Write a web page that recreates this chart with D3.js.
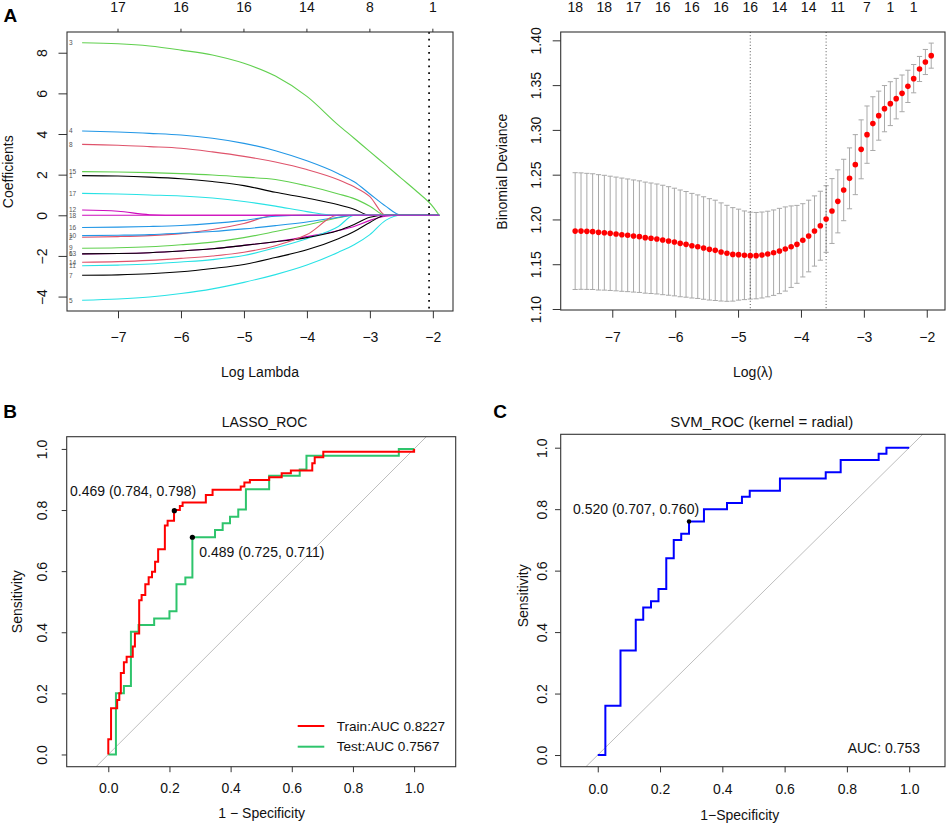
<!DOCTYPE html>
<html>
<head>
<meta charset="utf-8">
<script src="https://cdnjs.cloudflare.com/ajax/libs/d3/7.8.5/d3.min.js"></script>
<style>
  body { margin: 0; background: #fff; }
</style>
</head>
<body>
<svg id="chart" width="948" height="824"></svg>
<script>
const FONT = '"Liberation Sans", Arial, Helvetica, sans-serif';

// ---- panel A (left): lasso coefficient paths ----
const coefLogLambda = [-7.57, -7, -6.5, -6, -5.5, -5, -4.5, -4, -3.5, -3.25, -3, -2.75, -2.5, -2.25, -2, -1.9];
const coefPaths = [
  [1.95, 1.93, 1.88, 1.8, 1.66, 1.46, 1.13, 0.85, 0.52, 0.3, 0, 0, 0, 0, 0, 0],
  [-1.08, -1.05, -1.0, -0.9, -0.7, -0.4, 0, 0, 0, 0, 0, 0, 0, 0, 0, 0],
  [8.49, 8.44, 8.33, 8.13, 7.89, 7.48, 6.85, 5.85, 4.44, 3.79, 3.13, 2.48, 1.82, 1.16, 0.43, 0],
  [4.15, 4.1, 4.03, 3.95, 3.79, 3.54, 3.18, 2.68, 2.05, 1.65, 1.05, 0.45, 0, 0, 0, 0],
  [-4.18, -4.12, -4.02, -3.85, -3.62, -3.3, -2.92, -2.45, -1.82, -1.45, -0.95, -0.25, 0, 0, 0, 0],
  [-1.9, -1.88, -1.84, -1.76, -1.65, -1.48, -1.3, -1.05, -0.75, -0.55, -0.25, -0.05, 0, 0, 0, 0],
  [-2.95, -2.93, -2.88, -2.78, -2.62, -2.42, -2.08, -1.7, -1.15, -0.8, -0.35, 0, 0, 0, 0, 0],
  [3.49, 3.45, 3.38, 3.3, 3.12, 2.9, 2.62, 2.25, 1.75, 1.4, 0.92, 0, 0, 0, 0, 0],
  [-1.62, -1.6, -1.55, -1.45, -1.32, -1.1, -0.8, -0.48, -0.12, 0, 0, 0, 0, 0, 0, 0],
  [-1.0, -0.98, -0.95, -0.88, -0.8, -0.67, -0.51, -0.33, -0.1, 0, 0, 0, 0, 0, 0, 0],
  [-2.48, -2.45, -2.4, -2.3, -2.18, -1.98, -1.6, -1.15, -0.55, 0, 0, 0, 0, 0, 0, 0],
  [0.26, 0.2, 0.03, 0, 0, 0, 0, 0, 0, 0, 0, 0, 0, 0, 0, 0],
  [-1.9, -1.88, -1.84, -1.76, -1.65, -1.48, -1.3, -1.1, -0.75, -0.45, -0.1, 0, 0, 0, 0, 0],
  [-2.31, -2.28, -2.22, -2.12, -2.0, -1.82, -1.5, -0.95, 0, 0, 0, 0, 0, 0, 0, 0],
  [2.15, 2.13, 2.1, 2.05, 1.98, 1.88, 1.76, 1.45, 1.05, 0.82, 0.45, 0, 0, 0, 0, 0],
  [-0.6, -0.58, -0.55, -0.5, -0.4, -0.25, -0.05, 0, 0, 0, 0, 0, 0, 0, 0, 0],
  [1.08, 1.05, 1.0, 0.95, 0.85, 0.68, 0.45, 0.18, 0, 0, 0, 0, 0, 0, 0, 0],
  [0, 0, 0, 0, 0, 0, 0, 0, 0, 0, 0, 0, 0, 0, 0, 0]
];
const coefColors = ["#000000", "#DF536B", "#61D04F", "#2297E6", "#28E2E5", "#CD0BBC"];
const coefDfAt = [-7, -6, -5, -4, -3, -2];
const coefDf = ["17", "16", "16", "14", "8", "1"];
const coefCut = -2.06;

// ---- panel A (right): cross-validated deviance ----
const devLogLambda = [-7.59, -7.497, -7.404, -7.312, -7.219, -7.126, -7.033, -6.94, -6.848, -6.755,
  -6.662, -6.569, -6.476, -6.384, -6.291, -6.198, -6.105, -6.012, -5.92, -5.827,
  -5.734, -5.641, -5.548, -5.456, -5.363, -5.27, -5.177, -5.084, -4.992, -4.899,
  -4.806, -4.713, -4.62, -4.528, -4.435, -4.342, -4.249, -4.156, -4.064, -3.971,
  -3.878, -3.785, -3.692, -3.6, -3.507, -3.414, -3.321, -3.228, -3.136, -3.043,
  -2.95, -2.857, -2.764, -2.672, -2.579, -2.486, -2.393, -2.3, -2.208, -2.115,
  -2.022, -1.929];
const devMean = [1.187, 1.187, 1.1867, 1.1864, 1.1856, 1.1852, 1.1845, 1.1838, 1.183, 1.1823,
  1.1815, 1.1808, 1.1797, 1.179, 1.1782, 1.1771, 1.176, 1.1748, 1.1733, 1.1722,
  1.1707, 1.1696, 1.1681, 1.1666, 1.1655, 1.1637, 1.1622, 1.161, 1.1607, 1.16,
  1.1596, 1.1596, 1.1603, 1.1614, 1.1629, 1.1648, 1.167, 1.1696, 1.1722, 1.1767,
  1.1815, 1.1871, 1.193, 1.2005, 1.2094, 1.2202, 1.2329, 1.2459, 1.2612, 1.2783,
  1.2947, 1.307, 1.3159, 1.3237, 1.3293, 1.3349, 1.3408, 1.3486, 1.3572, 1.368,
  1.3758, 1.3829];
const devSE = [0.0652, 0.065, 0.0648, 0.0646, 0.0644, 0.0641, 0.0638, 0.0635, 0.0632, 0.0629,
  0.0626, 0.0623, 0.062, 0.0617, 0.0614, 0.0611, 0.0606, 0.0601, 0.0596, 0.059,
  0.0584, 0.0578, 0.0572, 0.0566, 0.056, 0.0548, 0.0536, 0.0522, 0.0508, 0.0495,
  0.0485, 0.0482, 0.048, 0.0478, 0.0477, 0.0476, 0.047, 0.0455, 0.0435, 0.0409,
  0.04, 0.0392, 0.0385, 0.0372, 0.0362, 0.0352, 0.0343, 0.034, 0.0335, 0.0329,
  0.032, 0.03, 0.0274, 0.0258, 0.0245, 0.0226, 0.0205, 0.018, 0.0158, 0.014,
  0.014, 0.014];
const devDfIdx = [0, 5, 10, 15, 20, 25, 30, 35, 40, 45, 50, 54, 58];
const devDf = ["18", "18", "17", "16", "16", "16", "16", "14", "14", "11", "7", "1", "1"];
const devMinLambda = -4.806;
const dev1seLambda = -3.6;

// ---- panel B: LASSO ROC (train / test) ----
const trainFpr = [0, 0, 0.009, 0.029, 0.036, 0.041, 0.051, 0.06, 0.08, 0.087, 0.101, 0.109, 0.121, 0.132, 0.143, 0.153, 0.163, 0.185, 0.194, 0.215, 0.234, 0.243, 0.319, 0.341, 0.433, 0.445, 0.463, 0.526, 0.567, 0.597, 0.667, 0.675, 0.703, 1.0];
const trainTpr = [0, 0.05, 0.151, 0.178, 0.2, 0.267, 0.302, 0.32, 0.353, 0.396, 0.505, 0.522, 0.557, 0.58, 0.598, 0.631, 0.672, 0.749, 0.765, 0.8, 0.813, 0.825, 0.849, 0.866, 0.877, 0.89, 0.898, 0.907, 0.92, 0.929, 0.953, 0.973, 0.991, 1.0];
const testFpr = [0, 0.025, 0.051, 0.074, 0.099, 0.15, 0.2, 0.223, 0.252, 0.275, 0.349, 0.374, 0.398, 0.425, 0.45, 0.526, 0.626, 0.648, 0.95, 1.0];
const testTpr = [0, 0.2, 0.224, 0.402, 0.424, 0.445, 0.469, 0.557, 0.579, 0.711, 0.735, 0.757, 0.778, 0.802, 0.868, 0.912, 0.933, 0.978, 1.0, 1.0];
const lassoThr = [
  { fpr: 0.216, tpr: 0.798, label: "0.469 (0.784, 0.798)" },
  { fpr: 0.275, tpr: 0.711, label: "0.489 (0.725, 0.711)" }
];
const lassoLegend = ["Train:AUC 0.8227", "Test:AUC 0.7567"];

// ---- panel C: SVM ROC ----
const svmFpr = [0, 0.0244, 0.073, 0.122, 0.146, 0.171, 0.195, 0.22, 0.244, 0.268, 0.293, 0.341, 0.415, 0.463, 0.488, 0.585, 0.732, 0.78, 0.902, 0.927, 1.0];
const svmTpr = [0, 0.16, 0.34, 0.44, 0.48, 0.5, 0.54, 0.64, 0.7, 0.72, 0.76, 0.8, 0.82, 0.84, 0.86, 0.9, 0.92, 0.96, 0.98, 1.0, 1.0];
const svmThr = { fpr: 0.293, tpr: 0.76, label: "0.520 (0.707, 0.760)" };
const svmAuc = "AUC: 0.753";

const rocTicks = [0, 0.2, 0.4, 0.6, 0.8, 1.0];

const svg = d3.select("#chart");

function txt(x, y, s, size, opts = {}) {
  const t = svg.append("text")
    .attr("x", x).attr("y", y)
    .attr("font-family", FONT)
    .attr("font-size", size)
    .attr("fill", opts.fill || "#111")
    .attr("text-anchor", opts.anchor || "middle")
    .attr("dy", opts.dy == null ? "0.35em" : opts.dy)
    .text(s);
  if (opts.bold) t.attr("font-weight", "bold");
  if (opts.rotate) t.attr("transform", `rotate(-90,${x},${y})`);
  return t;
}

function frame(x, y) {
  svg.append("rect")
    .attr("x", x.range()[0]).attr("y", y.range()[1])
    .attr("width", x.range()[1] - x.range()[0])
    .attr("height", y.range()[0] - y.range()[1])
    .attr("fill", "none").attr("stroke", "#333").attr("stroke-width", 1.1);
}

function bottomAxis(x, y, ticks, fmt, tickLen, labelY) {
  const y0 = y.range()[0];
  const g = svg.append("g").attr("transform", `translate(0,${y0})`)
    .call(d3.axisBottom(x).tickValues(ticks).tickSize(tickLen).tickFormat(fmt));
  g.select(".domain").remove();
  g.selectAll(".tick line").attr("stroke", "#333");
  g.selectAll(".tick text")
    .attr("y", labelY - y0).attr("dy", "0.35em")
    .attr("font-size", 14).attr("font-family", FONT).attr("fill", "#111");
}

function leftAxis(x, y, ticks, fmt, tickLen, labelX) {
  const x0 = x.range()[0];
  const g = svg.append("g").attr("transform", `translate(${x0},0)`)
    .call(d3.axisLeft(y).tickValues(ticks).tickSize(tickLen).tickFormat(fmt));
  g.select(".domain").remove();
  g.selectAll(".tick line").attr("stroke", "#333");
  g.selectAll(".tick text")
    .attr("transform", "rotate(-90)")
    .attr("x", 0).attr("y", -(x0 - labelX)).attr("dy", "0.35em")
    .attr("text-anchor", "middle")
    .attr("font-size", 14).attr("font-family", FONT).attr("fill", "#111");
}

// ================= Panel A left =================
{
  const x = d3.scaleLinear().domain([-7.81, -1.68]).range([67, 453]);
  const y = d3.scaleLinear().domain([-4.71, 9.02]).range([311, 32]);
  const line = d3.line()
    .x((d, i) => x(coefLogLambda[i]))
    .y(d => y(d))
    .curve(d3.curveMonotoneX);

  coefPaths.forEach((vals, k) => {
    svg.append("path")
      .attr("d", line(vals))
      .attr("fill", "none")
      .attr("stroke", coefColors[k % 6])
      .attr("stroke-width", 1.1);
  });
  coefPaths.forEach((vals, k) => {
    txt(69, y(vals[0]), String(k + 1), 6.5, { anchor: "start", fill: "#555" });
  });

  svg.append("line")
    .attr("x1", x(coefCut)).attr("x2", x(coefCut))
    .attr("y1", y.range()[1]).attr("y2", y.range()[0])
    .attr("stroke", "#000").attr("stroke-width", 1.7)
    .attr("stroke-dasharray", "1.7,5");

  frame(x, y);
  bottomAxis(x, y, coefDfAt, d3.format("d"), 7.3, 336.7);
  leftAxis(x, y, [-4, -2, 0, 2, 4, 6, 8], d3.format("d"), 8.5, 41.7);

  coefDfAt.forEach((v, i) => {
    svg.append("line")
      .attr("x1", x(v)).attr("x2", x(v))
      .attr("y1", 32).attr("y2", 28.7)
      .attr("stroke", "#333");
    txt(x(v), 7.5, coefDf[i], 14);
  });

  txt(8.5, 171.7, "Coefficients", 14, { rotate: true });
  txt(260, 371.7, "Log Lambda", 14);
  txt(3.5, 21.7, "A", 19, { anchor: "start", bold: true, dy: 0, fill: "#000" });
}

// ================= Panel A right =================
{
  const x = d3.scaleLinear().domain([-7.82, -1.71]).range([560.7, 945]);
  const y = d3.scaleLinear().domain([1.0989, 1.4093]).range([310, 32]);

  const bars = svg.append("g").attr("stroke", "#A9A9A9").attr("stroke-width", 1);
  devLogLambda.forEach((lx, i) => {
    const cx = x(lx);
    const lo = y(devMean[i] - devSE[i]);
    const hi = y(devMean[i] + devSE[i]);
    bars.append("line").attr("x1", cx).attr("x2", cx).attr("y1", lo).attr("y2", hi);
    bars.append("line").attr("x1", cx - 2.6).attr("x2", cx + 2.6).attr("y1", lo).attr("y2", lo);
    bars.append("line").attr("x1", cx - 2.6).attr("x2", cx + 2.6).attr("y1", hi).attr("y2", hi);
  });

  [devMinLambda, dev1seLambda].forEach(v => {
    svg.append("line")
      .attr("x1", x(v)).attr("x2", x(v))
      .attr("y1", y.range()[1]).attr("y2", y.range()[0])
      .attr("stroke", "#444").attr("stroke-width", 0.9)
      .attr("stroke-dasharray", "1,2.2");
  });

  svg.append("g").selectAll("circle")
    .data(devMean)
    .join("circle")
    .attr("cx", (d, i) => x(devLogLambda[i]))
    .attr("cy", d => y(d))
    .attr("r", 2.8)
    .attr("fill", "#FF0000");

  frame(x, y);
  bottomAxis(x, y, [-7, -6, -5, -4, -3, -2], d3.format("d"), 7.7, 336.7);
  leftAxis(x, y, [1.10, 1.15, 1.20, 1.25, 1.30, 1.35, 1.40], d3.format(".2f"), 8, 536);

  devDfIdx.forEach((idx, i) => {
    txt(x(devLogLambda[idx]), 7.5, devDf[i], 14);
  });

  txt(501.7, 171.7, "Binomial Deviance", 14, { rotate: true });
  txt(752.9, 371.7, "Log(λ)", 14);
}

// ================= Panel B =================
{
  const x = d3.scaleLinear().domain([-0.136, 1.136]).range([66.7, 455.7]);
  const y = d3.scaleLinear().domain([-0.04, 1.04]).range([766.7, 436.7]);

  const lo = Math.max(x.domain()[0], y.domain()[0]);
  const hi = Math.min(x.domain()[1], y.domain()[1]);
  svg.append("line")
    .attr("x1", x(lo)).attr("y1", y(lo)).attr("x2", x(hi)).attr("y2", y(hi))
    .attr("stroke", "#BEBEBE").attr("stroke-width", 1);

  const step = d3.line().curve(d3.curveStepAfter);
  svg.append("path")
    .attr("d", step(testFpr.map((f, i) => [x(f), y(testTpr[i])])))
    .attr("fill", "none").attr("stroke", "#2EC46C").attr("stroke-width", 2);
  svg.append("path")
    .attr("d", step(trainFpr.map((f, i) => [x(f), y(trainTpr[i])])))
    .attr("fill", "none").attr("stroke", "#FF0000").attr("stroke-width", 2);

  lassoThr.forEach(t => {
    svg.append("circle").attr("cx", x(t.fpr)).attr("cy", y(t.tpr)).attr("r", 2.6).attr("fill", "#000");
  });
  txt(70, 490.7, lassoThr[0].label, 14, { anchor: "start" });
  txt(199.3, 552.3, lassoThr[1].label, 14, { anchor: "start" });

  const legColors = ["#FF0000", "#2EC46C"];
  [726, 746.7].forEach((ly, i) => {
    svg.append("line")
      .attr("x1", 297.7).attr("x2", 324.3).attr("y1", ly).attr("y2", ly)
      .attr("stroke", legColors[i]).attr("stroke-width", 2);
    txt(336.7, ly, lassoLegend[i], 13.6, { anchor: "start" });
  });

  frame(x, y);
  bottomAxis(x, y, rocTicks, d3.format(".1f"), 5.5, 788.3);
  leftAxis(x, y, rocTicks, d3.format(".1f"), 5, 41.8);

  txt(264.5, 421.7, "LASSO_ROC", 14);
  txt(16.8, 601.7, "Sensitivity", 14, { rotate: true });
  txt(261.7, 813.3, "1 − Specificity", 14);
  txt(3.3, 418.3, "B", 19, { anchor: "start", bold: true, dy: 0, fill: "#000" });
}

// ================= Panel C =================
{
  const x = d3.scaleLinear().domain([-0.119, 1.115]).range([560.7, 945]);
  const y = d3.scaleLinear().domain([-0.038, 1.0436]).range([766.7, 434.3]);

  const lo = Math.max(x.domain()[0], y.domain()[0]);
  const hi = Math.min(x.domain()[1], y.domain()[1]);
  svg.append("line")
    .attr("x1", x(lo)).attr("y1", y(lo)).attr("x2", x(hi)).attr("y2", y(hi))
    .attr("stroke", "#BEBEBE").attr("stroke-width", 1);

  const step = d3.line().curve(d3.curveStepAfter);
  svg.append("path")
    .attr("d", step(svmFpr.map((f, i) => [x(f), y(svmTpr[i])])))
    .attr("fill", "none").attr("stroke", "#0000FF").attr("stroke-width", 2);

  svg.append("circle").attr("cx", x(svmThr.fpr)).attr("cy", y(svmThr.tpr)).attr("r", 2.2).attr("fill", "#000");
  txt(573, 509.3, svmThr.label, 14, { anchor: "start" });
  txt(920, 747.7, svmAuc, 14, { anchor: "end" });

  frame(x, y);
  bottomAxis(x, y, rocTicks, d3.format(".1f"), 5.7, 789);
  leftAxis(x, y, rocTicks, d3.format(".1f"), 5.7, 542.5);

  txt(761.7, 422, "SVM_ROC (kernel = radial)", 15);
  txt(523, 595.8, "Sensitivity", 14, { rotate: true });
  txt(739.7, 815, "1−Specificity", 14);
  txt(493.3, 418.3, "C", 19, { anchor: "start", bold: true, dy: 0, fill: "#000" });
}
</script>
</body>
</html>
